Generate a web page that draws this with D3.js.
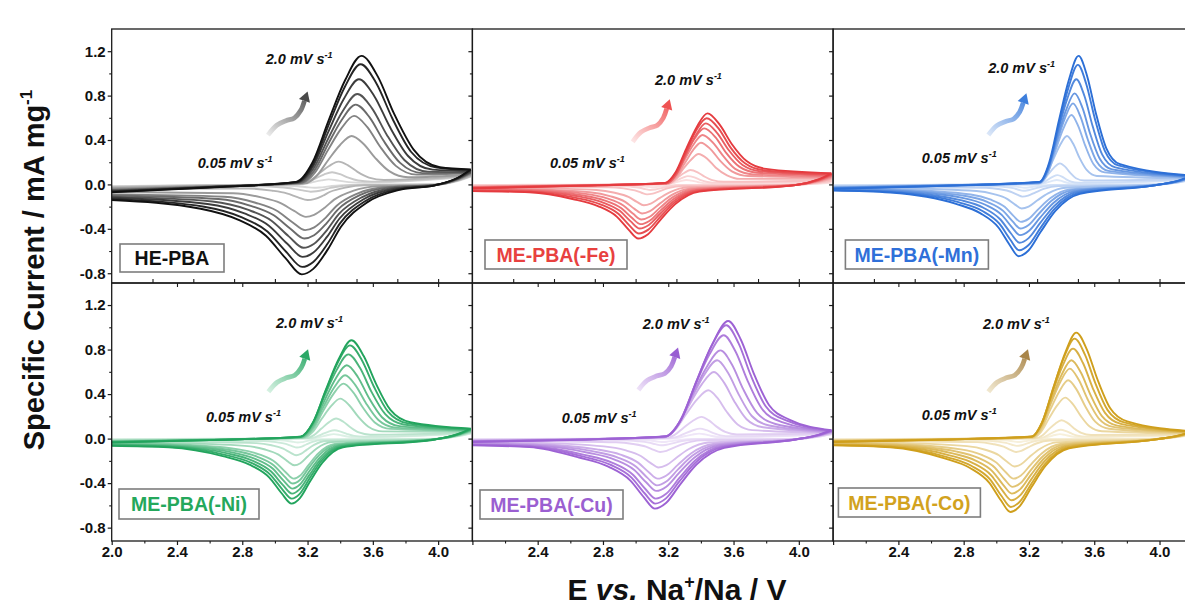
<!DOCTYPE html>
<html><head><meta charset="utf-8">
<script src="https://cdn.jsdelivr.net/npm/d3@7"></script>
<style>body{margin:0;background:#fff}svg{display:block}</style>
</head><body>
<svg id="chart" width="1185" height="606"></svg>
<script>
// ---------------- DATA (E / V, specific current / mA mg-1) ----------------
const panelNames = ["HE-PBA","ME-PBA(-Fe)","ME-PBA(-Mn)","ME-PBA(-Ni)","ME-PBA(-Cu)","ME-PBA(-Co)"];
const scanRateLabels = ["0.05 mV s","2.0 mV s"];
const xTickValues = [2.0,2.4,2.8,3.2,3.6,4.0];
const xTickLabels = ["2.0","2.4","2.8","3.2","3.6","4.0"];
const yTickValues = [-0.8,-0.4,0.0,0.4,0.8,1.2];
const yTickLabels = ["-0.8","-0.4","0.0","0.4","0.8","1.2"];

const heAnodic = [
[[2.0,-0.015],[2.6,-0.006],[3.15,0.0],[3.195,0.008],[3.24,0.023],[3.285,0.036],[3.33,0.045],[3.375,0.038],[3.42,0.027],[3.474,0.018],[3.546,0.015],[4.2,0.07]],
[[2.0,-0.02],[2.6,-0.008],[3.15,0.002],[3.2,0.019],[3.25,0.055],[3.3,0.089],[3.35,0.11],[3.4,0.092],[3.45,0.061],[3.51,0.035],[3.59,0.025],[4.2,0.075]],
[[2.0,-0.025],[2.6,-0.01],[3.158,0.004],[3.216,0.035],[3.274,0.103],[3.332,0.166],[3.39,0.205],[3.448,0.172],[3.506,0.113],[3.576,0.062],[3.668,0.04],[4.2,0.08]],
[[2.0,-0.035],[2.6,-0.014],[3.182,0.009],[3.254,0.074],[3.326,0.218],[3.398,0.353],[3.47,0.436],[3.542,0.366],[3.614,0.24],[3.7,0.12],[3.816,0.065],[4.2,0.09]],
[[2.0,-0.045],[2.6,-0.018],[3.165,0.012],[3.245,0.105],[3.325,0.309],[3.405,0.5],[3.485,0.617],[3.565,0.518],[3.645,0.339],[3.741,0.167],[3.869,0.088],[4.2,0.1]],
[[2.0,-0.05],[2.6,-0.02],[3.155,0.014],[3.24,0.122],[3.325,0.36],[3.41,0.582],[3.495,0.719],[3.58,0.604],[3.665,0.395],[3.767,0.194],[3.903,0.102],[4.2,0.105]],
[[2.0,-0.055],[2.6,-0.022],[3.145,0.016],[3.235,0.139],[3.325,0.408],[3.415,0.66],[3.505,0.815],[3.595,0.685],[3.685,0.448],[3.793,0.22],[3.937,0.115],[4.2,0.11]],
[[2.0,-0.06],[2.6,-0.024],[3.139,0.019],[3.233,0.161],[3.327,0.474],[3.421,0.767],[3.515,0.947],[3.609,0.795],[3.703,0.521],[3.816,0.256],[3.966,0.133],[4.2,0.12]],
[[2.0,-0.065],[2.6,-0.026],[3.137,0.022],[3.234,0.184],[3.331,0.542],[3.428,0.877],[3.525,1.083],[3.622,0.91],[3.719,0.596],[3.835,0.292],[3.991,0.152],[4.2,0.13]],
[[2.0,-0.07],[2.6,-0.028],[3.13,0.023],[3.23,0.197],[3.33,0.579],[3.43,0.938],[3.53,1.158],[3.63,0.973],[3.73,0.637],[3.85,0.313],[4.01,0.155],[4.2,0.135]]
];
const heCathodic = [
[[2.0,-0.02],[2.961,-0.008],[3.069,-0.012],[3.141,-0.017],[3.195,-0.025],[3.24,-0.03],[3.272,-0.028],[3.312,-0.022],[3.348,-0.014],[3.42,-0.006],[3.51,-0.002],[3.98,0.0],[4.12,0.03],[4.2,0.07]],
[[2.0,-0.03],[2.91,-0.018],[3.03,-0.026],[3.11,-0.038],[3.17,-0.054],[3.22,-0.066],[3.255,-0.062],[3.3,-0.048],[3.34,-0.031],[3.42,-0.013],[3.52,-0.004],[3.98,0.0],[4.12,0.034],[4.2,0.075]],
[[2.0,-0.045],[2.84,-0.038],[2.98,-0.056],[3.072,-0.08],[3.142,-0.116],[3.2,-0.141],[3.241,-0.133],[3.293,-0.102],[3.339,-0.066],[3.432,-0.028],[3.548,-0.008],[3.98,-0.003],[4.12,0.036],[4.2,0.08]],
[[2.0,-0.07],[2.744,-0.079],[2.916,-0.117],[3.032,-0.166],[3.118,-0.239],[3.19,-0.292],[3.24,-0.274],[3.305,-0.21],[3.363,-0.137],[3.478,-0.058],[3.622,-0.018],[3.98,-0.005],[4.12,0.04],[4.2,0.09]],
[[2.0,-0.09],[2.689,-0.111],[2.881,-0.165],[3.009,-0.235],[3.105,-0.338],[3.185,-0.412],[3.241,-0.387],[3.313,-0.297],[3.377,-0.194],[3.505,-0.082],[3.665,-0.025],[3.98,-0.005],[4.12,0.045],[4.2,0.1]],
[[2.0,-0.1],[2.653,-0.131],[2.857,-0.195],[2.993,-0.278],[3.095,-0.399],[3.18,-0.487],[3.24,-0.458],[3.316,-0.351],[3.384,-0.229],[3.52,-0.097],[3.69,-0.029],[3.98,-0.005],[4.12,0.047],[4.2,0.105]],
[[2.0,-0.11],[2.617,-0.154],[2.833,-0.228],[2.977,-0.325],[3.085,-0.468],[3.175,-0.571],[3.238,-0.537],[3.319,-0.411],[3.391,-0.268],[3.535,-0.114],[3.715,-0.034],[3.98,-0.006],[4.12,0.05],[4.2,0.11]],
[[2.0,-0.12],[2.587,-0.176],[2.813,-0.261],[2.963,-0.372],[3.076,-0.535],[3.17,-0.653],[3.236,-0.614],[3.32,-0.47],[3.396,-0.307],[3.546,-0.131],[3.734,-0.039],[3.98,-0.007],[4.12,0.054],[4.2,0.12]],
[[2.0,-0.13],[2.566,-0.201],[2.798,-0.297],[2.954,-0.424],[3.07,-0.609],[3.167,-0.743],[3.235,-0.698],[3.322,-0.535],[3.4,-0.349],[3.555,-0.149],[3.749,-0.045],[3.98,-0.008],[4.12,0.058],[4.2,0.13]],
[[2.0,-0.14],[2.545,-0.219],[2.785,-0.324],[2.945,-0.462],[3.065,-0.664],[3.165,-0.81],[3.235,-0.761],[3.325,-0.583],[3.405,-0.381],[3.565,-0.162],[3.765,-0.049],[3.98,-0.008],[4.12,0.06],[4.2,0.135]]
];

const feAnodic = [
[[2.0,-0.005],[2.6,-0.002],[3.19,0.001],[3.22,0.007],[3.25,0.02],[3.28,0.032],[3.31,0.04],[3.34,0.034],[3.38,0.022],[3.42,0.011],[3.47,0.007],[4.2,0.015]],
[[2.0,-0.009],[2.6,-0.004],[3.19,0.002],[3.22,0.013],[3.255,0.038],[3.29,0.061],[3.32,0.075],[3.36,0.063],[3.395,0.041],[3.44,0.022],[3.5,0.014],[4.2,0.025]],
[[2.0,-0.012],[2.6,-0.005],[3.18,0.003],[3.22,0.022],[3.26,0.065],[3.3,0.105],[3.335,0.13],[3.38,0.109],[3.42,0.072],[3.47,0.038],[3.54,0.024],[4.2,0.035]],
[[2.0,-0.018],[2.6,-0.007],[3.2,0.005],[3.245,0.047],[3.29,0.137],[3.34,0.222],[3.385,0.274],[3.44,0.23],[3.49,0.153],[3.56,0.082],[3.64,0.05],[4.2,0.05]],
[[2.0,-0.022],[2.6,-0.009],[3.19,0.008],[3.245,0.064],[3.3,0.188],[3.35,0.305],[3.4,0.376],[3.46,0.316],[3.52,0.21],[3.59,0.118],[3.69,0.076],[4.2,0.062]],
[[2.0,-0.025],[2.6,-0.01],[3.19,0.009],[3.245,0.076],[3.3,0.223],[3.355,0.36],[3.41,0.445],[3.475,0.374],[3.54,0.25],[3.61,0.14],[3.72,0.09],[4.2,0.07]],
[[2.0,-0.027],[2.6,-0.011],[3.19,0.01],[3.245,0.086],[3.3,0.253],[3.36,0.409],[3.42,0.505],[3.49,0.424],[3.555,0.284],[3.635,0.16],[3.745,0.105],[4.2,0.078]],
[[2.0,-0.03],[2.6,-0.012],[3.19,0.011],[3.25,0.094],[3.31,0.275],[3.37,0.446],[3.43,0.55],[3.5,0.462],[3.57,0.31],[3.655,0.175],[3.77,0.117],[4.2,0.086]],
[[2.0,-0.033],[2.6,-0.013],[3.18,0.012],[3.245,0.101],[3.31,0.298],[3.37,0.483],[3.435,0.596],[3.51,0.501],[3.58,0.336],[3.67,0.19],[3.785,0.128],[4.2,0.093]],
[[2.0,-0.035],[2.6,-0.014],[3.18,0.013],[3.245,0.109],[3.31,0.32],[3.375,0.518],[3.44,0.64],[3.515,0.538],[3.59,0.362],[3.68,0.21],[3.8,0.14],[4.2,0.1]]
];
const feCathodic = [
[[2.0,-0.009],[2.92,-0.007],[2.99,-0.01],[3.04,-0.015],[3.074,-0.021],[3.1,-0.025],[3.127,-0.023],[3.16,-0.017],[3.2,-0.009],[3.27,-0.004],[3.98,-0.001],[4.12,0.007],[4.2,0.015]],
[[2.0,-0.015],[2.89,-0.014],[2.97,-0.02],[3.025,-0.03],[3.06,-0.042],[3.09,-0.05],[3.12,-0.046],[3.158,-0.033],[3.203,-0.019],[3.278,-0.008],[3.98,-0.002],[4.12,0.011],[4.2,0.025]],
[[2.0,-0.021],[2.836,-0.025],[2.927,-0.036],[2.995,-0.054],[3.036,-0.075],[3.07,-0.09],[3.105,-0.083],[3.148,-0.06],[3.2,-0.034],[3.288,-0.014],[3.98,-0.003],[4.12,0.016],[4.2,0.035]],
[[2.0,-0.03],[2.35,-0.033],[2.76,-0.05],[2.872,-0.075],[2.956,-0.112],[3.008,-0.157],[3.05,-0.187],[3.093,-0.172],[3.147,-0.123],[3.212,-0.069],[3.32,-0.026],[3.98,-0.003],[4.12,0.022],[4.2,0.05]],
[[2.0,-0.037],[2.35,-0.042],[2.718,-0.071],[2.842,-0.105],[2.936,-0.157],[2.993,-0.22],[3.04,-0.262],[3.088,-0.241],[3.148,-0.173],[3.22,-0.097],[3.34,-0.036],[3.98,-0.004],[4.12,0.028],[4.2,0.062]],
[[2.0,-0.042],[2.35,-0.048],[2.692,-0.085],[2.825,-0.126],[2.925,-0.19],[2.985,-0.265],[3.035,-0.316],[3.086,-0.291],[3.15,-0.209],[3.226,-0.117],[3.354,-0.043],[3.98,-0.004],[4.12,0.032],[4.2,0.07]],
[[2.0,-0.047],[2.35,-0.055],[2.667,-0.097],[2.808,-0.143],[2.913,-0.215],[2.977,-0.301],[3.03,-0.358],[3.084,-0.329],[3.152,-0.236],[3.233,-0.132],[3.368,-0.05],[3.98,-0.005],[4.12,0.035],[4.2,0.078]],
[[2.0,-0.052],[2.35,-0.06],[2.646,-0.107],[2.793,-0.159],[2.903,-0.238],[2.97,-0.333],[3.025,-0.397],[3.081,-0.365],[3.152,-0.262],[3.237,-0.147],[3.378,-0.055],[3.98,-0.005],[4.12,0.039],[4.2,0.086]],
[[2.0,-0.056],[2.35,-0.065],[2.629,-0.119],[2.78,-0.177],[2.894,-0.265],[2.963,-0.371],[3.02,-0.442],[3.078,-0.407],[3.151,-0.292],[3.238,-0.164],[3.384,-0.06],[3.98,-0.006],[4.12,0.042],[4.2,0.093]],
[[2.0,-0.06],[2.35,-0.071],[2.613,-0.131],[2.769,-0.195],[2.886,-0.292],[2.958,-0.409],[3.016,-0.487],[3.076,-0.448],[3.151,-0.321],[3.241,-0.18],[3.391,-0.065],[3.98,-0.006],[4.12,0.045],[4.2,0.1]]
];

const mnAnodic = [
[[2.0,-0.006],[2.6,-0.002],[3.262,0.001],[3.289,0.007],[3.316,0.02],[3.343,0.032],[3.37,0.04],[3.394,0.034],[3.418,0.022],[3.446,0.012],[3.484,0.008],[4.2,0.04]],
[[2.0,-0.01],[2.6,-0.004],[3.255,0.002],[3.285,0.014],[3.315,0.042],[3.345,0.068],[3.375,0.084],[3.402,0.071],[3.428,0.046],[3.46,0.024],[3.502,0.015],[4.2,0.044]],
[[2.0,-0.014],[2.6,-0.006],[3.251,0.004],[3.286,0.032],[3.32,0.095],[3.355,0.154],[3.39,0.19],[3.421,0.16],[3.452,0.106],[3.488,0.056],[3.538,0.035],[4.2,0.048]],
[[2.0,-0.02],[2.6,-0.008],[3.26,0.009],[3.303,0.074],[3.347,0.218],[3.39,0.353],[3.433,0.436],[3.471,0.366],[3.509,0.242],[3.555,0.128],[3.616,0.076],[4.2,0.054]],
[[2.0,-0.025],[2.6,-0.01],[3.268,0.013],[3.316,0.106],[3.364,0.313],[3.412,0.507],[3.46,0.626],[3.502,0.526],[3.545,0.349],[3.596,0.181],[3.664,0.108],[4.2,0.06]],
[[2.0,-0.028],[2.6,-0.011],[3.266,0.015],[3.317,0.124],[3.368,0.365],[3.419,0.591],[3.47,0.73],[3.515,0.613],[3.56,0.407],[3.614,0.209],[3.686,0.122],[4.2,0.064]],
[[2.0,-0.031],[2.6,-0.012],[3.264,0.016],[3.318,0.139],[3.372,0.41],[3.426,0.664],[3.48,0.82],[3.528,0.689],[3.575,0.456],[3.633,0.233],[3.709,0.135],[4.2,0.068]],
[[2.0,-0.034],[2.6,-0.014],[3.264,0.019],[3.321,0.161],[3.377,0.474],[3.434,0.768],[3.49,0.948],[3.54,0.796],[3.59,0.526],[3.649,0.268],[3.729,0.153],[4.2,0.072]],
[[2.0,-0.037],[2.6,-0.015],[3.267,0.022],[3.325,0.183],[3.384,0.539],[3.442,0.872],[3.5,1.077],[3.551,0.905],[3.603,0.597],[3.665,0.303],[3.747,0.171],[4.2,0.076]],
[[2.0,-0.04],[2.6,-0.016],[3.264,0.023],[3.324,0.197],[3.384,0.579],[3.444,0.938],[3.504,1.158],[3.557,0.973],[3.61,0.642],[3.674,0.325],[3.758,0.182],[4.2,0.08]]
];
const mnCathodic = [
[[2.0,-0.008],[2.997,-0.008],[3.064,-0.012],[3.114,-0.018],[3.145,-0.025],[3.17,-0.03],[3.197,-0.028],[3.231,-0.02],[3.271,-0.011],[3.339,-0.004],[3.98,0.0],[4.12,0.018],[4.2,0.04]],
[[2.0,-0.014],[2.973,-0.015],[3.047,-0.023],[3.103,-0.034],[3.137,-0.048],[3.165,-0.057],[3.195,-0.052],[3.233,-0.038],[3.278,-0.021],[3.353,-0.008],[3.98,0.0],[4.12,0.02],[4.2,0.044]],
[[2.0,-0.019],[2.937,-0.03],[3.023,-0.044],[3.088,-0.066],[3.128,-0.092],[3.16,-0.11],[3.195,-0.101],[3.238,-0.073],[3.29,-0.041],[3.378,-0.015],[3.98,-0.002],[4.12,0.022],[4.2,0.048]],
[[2.0,-0.028],[2.35,-0.033],[2.878,-0.059],[2.985,-0.087],[3.066,-0.13],[3.115,-0.182],[3.155,-0.217],[3.198,-0.2],[3.252,-0.143],[3.317,-0.08],[3.425,-0.03],[3.98,-0.003],[4.12,0.024],[4.2,0.054]],
[[2.0,-0.034],[2.35,-0.043],[2.843,-0.091],[2.962,-0.135],[3.051,-0.202],[3.105,-0.283],[3.15,-0.337],[3.198,-0.31],[3.258,-0.222],[3.33,-0.125],[3.45,-0.045],[3.98,-0.004],[4.12,0.027],[4.2,0.06]],
[[2.0,-0.039],[2.35,-0.049],[2.82,-0.107],[2.947,-0.159],[3.042,-0.238],[3.1,-0.333],[3.147,-0.397],[3.198,-0.365],[3.262,-0.262],[3.338,-0.147],[3.466,-0.053],[3.98,-0.004],[4.12,0.029],[4.2,0.064]],
[[2.0,-0.043],[2.35,-0.055],[2.799,-0.123],[2.933,-0.183],[3.033,-0.274],[3.095,-0.384],[3.145,-0.457],[3.199,-0.42],[3.267,-0.302],[3.348,-0.169],[3.483,-0.06],[3.98,-0.005],[4.12,0.031],[4.2,0.068]],
[[2.0,-0.047],[2.35,-0.061],[2.781,-0.142],[2.921,-0.21],[3.025,-0.316],[3.09,-0.442],[3.142,-0.526],[3.198,-0.484],[3.269,-0.347],[3.354,-0.195],[3.495,-0.068],[3.98,-0.005],[4.12,0.032],[4.2,0.072]],
[[2.0,-0.051],[2.35,-0.067],[2.767,-0.16],[2.912,-0.237],[3.02,-0.356],[3.086,-0.498],[3.14,-0.593],[3.198,-0.546],[3.271,-0.391],[3.358,-0.219],[3.504,-0.077],[3.98,-0.006],[4.12,0.034],[4.2,0.076]],
[[2.0,-0.055],[2.35,-0.073],[2.753,-0.175],[2.901,-0.259],[3.013,-0.388],[3.081,-0.543],[3.137,-0.647],[3.197,-0.595],[3.272,-0.427],[3.362,-0.239],[3.512,-0.085],[3.98,-0.006],[4.12,0.036],[4.2,0.08]]
];

const niAnodic = [
[[2.0,-0.005],[2.6,-0.002],[3.22,0.001],[3.255,0.007],[3.29,0.02],[3.325,0.032],[3.36,0.04],[3.394,0.034],[3.428,0.023],[3.468,0.014],[3.522,0.012],[4.2,0.045]],
[[2.0,-0.009],[2.6,-0.004],[3.209,0.002],[3.248,0.013],[3.287,0.038],[3.326,0.061],[3.365,0.075],[3.403,0.063],[3.44,0.043],[3.485,0.024],[3.545,0.017],[4.2,0.05]],
[[2.0,-0.012],[2.6,-0.005],[3.194,0.004],[3.239,0.031],[3.285,0.09],[3.33,0.146],[3.375,0.18],[3.419,0.151],[3.462,0.102],[3.514,0.055],[3.584,0.035],[4.2,0.054]],
[[2.0,-0.018],[2.6,-0.007],[3.175,0.007],[3.232,0.061],[3.288,0.18],[3.344,0.291],[3.4,0.359],[3.454,0.302],[3.508,0.201],[3.573,0.107],[3.659,0.065],[4.2,0.061]],
[[2.0,-0.022],[2.6,-0.009],[3.17,0.01],[3.233,0.084],[3.295,0.247],[3.358,0.4],[3.42,0.494],[3.48,0.415],[3.54,0.277],[3.612,0.145],[3.708,0.087],[4.2,0.068]],
[[2.0,-0.025],[2.6,-0.01],[3.165,0.011],[3.231,0.097],[3.297,0.285],[3.364,0.461],[3.43,0.569],[3.494,0.478],[3.558,0.318],[3.634,0.167],[3.736,0.099],[4.2,0.072]],
[[2.0,-0.027],[2.6,-0.011],[3.159,0.013],[3.229,0.112],[3.3,0.33],[3.37,0.534],[3.44,0.659],[3.508,0.554],[3.575,0.368],[3.656,0.192],[3.764,0.112],[4.2,0.077]],
[[2.0,-0.03],[2.6,-0.012],[3.157,0.015],[3.23,0.129],[3.303,0.379],[3.377,0.613],[3.45,0.757],[3.521,0.636],[3.591,0.422],[3.676,0.219],[3.788,0.127],[4.2,0.081]],
[[2.0,-0.033],[2.6,-0.013],[3.157,0.017],[3.233,0.142],[3.309,0.419],[3.384,0.679],[3.46,0.838],[3.533,0.704],[3.606,0.468],[3.693,0.242],[3.809,0.139],[4.2,0.086]],
[[2.0,-0.035],[2.6,-0.014],[3.157,0.018],[3.235,0.15],[3.313,0.442],[3.391,0.715],[3.469,0.883],[3.544,0.742],[3.619,0.494],[3.709,0.255],[3.829,0.147],[4.2,0.09]]
];
const niCathodic = [
[[2.0,-0.01],[2.95,-0.009],[3.024,-0.014],[3.079,-0.021],[3.113,-0.029],[3.14,-0.035],[3.163,-0.032],[3.191,-0.023],[3.225,-0.013],[3.282,-0.005],[3.98,-0.002],[4.12,0.02],[4.2,0.045]],
[[2.0,-0.016],[2.924,-0.022],[3.006,-0.032],[3.067,-0.048],[3.104,-0.067],[3.135,-0.08],[3.16,-0.074],[3.192,-0.053],[3.23,-0.03],[3.293,-0.011],[3.98,-0.003],[4.12,0.022],[4.2,0.05]],
[[2.0,-0.023],[2.35,-0.026],[2.886,-0.041],[2.98,-0.06],[3.051,-0.09],[3.095,-0.126],[3.13,-0.15],[3.159,-0.138],[3.196,-0.099],[3.24,-0.056],[3.313,-0.021],[3.98,-0.004],[4.12,0.024],[4.2,0.054]],
[[2.0,-0.033],[2.35,-0.038],[2.816,-0.065],[2.934,-0.096],[3.022,-0.144],[3.076,-0.202],[3.12,-0.24],[3.156,-0.221],[3.202,-0.158],[3.256,-0.089],[3.347,-0.032],[3.98,-0.005],[4.12,0.027],[4.2,0.061]],
[[2.0,-0.04],[2.35,-0.049],[2.778,-0.097],[2.908,-0.144],[3.006,-0.216],[3.066,-0.302],[3.115,-0.36],[3.155,-0.331],[3.206,-0.238],[3.266,-0.133],[3.367,-0.048],[3.98,-0.005],[4.12,0.03],[4.2,0.068]],
[[2.0,-0.046],[2.35,-0.055],[2.752,-0.109],[2.89,-0.162],[2.994,-0.242],[3.058,-0.339],[3.11,-0.404],[3.153,-0.372],[3.206,-0.267],[3.271,-0.149],[3.378,-0.054],[3.98,-0.006],[4.12,0.032],[4.2,0.072]],
[[2.0,-0.051],[2.35,-0.062],[2.729,-0.121],[2.875,-0.18],[2.986,-0.269],[3.053,-0.377],[3.108,-0.449],[3.153,-0.413],[3.21,-0.296],[3.278,-0.166],[3.392,-0.06],[3.98,-0.006],[4.12,0.035],[4.2,0.077]],
[[2.0,-0.056],[2.35,-0.068],[2.709,-0.133],[2.862,-0.198],[2.977,-0.296],[3.048,-0.415],[3.105,-0.494],[3.152,-0.454],[3.212,-0.326],[3.283,-0.183],[3.401,-0.066],[3.98,-0.007],[4.12,0.036],[4.2,0.081]],
[[2.0,-0.06],[2.35,-0.073],[2.694,-0.146],[2.852,-0.216],[2.971,-0.323],[3.044,-0.453],[3.103,-0.539],[3.152,-0.496],[3.213,-0.356],[3.286,-0.199],[3.409,-0.072],[3.98,-0.007],[4.12,0.039],[4.2,0.086]],
[[2.0,-0.065],[2.35,-0.079],[2.68,-0.158],[2.844,-0.234],[2.966,-0.35],[3.041,-0.491],[3.102,-0.584],[3.152,-0.537],[3.215,-0.385],[3.291,-0.216],[3.417,-0.078],[3.98,-0.008],[4.12,0.04],[4.2,0.09]]
];

const cuAnodic = [
[[2.0,-0.005],[2.6,-0.002],[3.219,0.001],[3.262,0.008],[3.305,0.023],[3.347,0.036],[3.39,0.045],[3.425,0.038],[3.46,0.026],[3.502,0.015],[3.558,0.012],[4.2,0.038]],
[[2.0,-0.008],[2.6,-0.003],[3.205,0.002],[3.253,0.015],[3.3,0.045],[3.348,0.073],[3.395,0.09],[3.434,0.076],[3.473,0.052],[3.52,0.029],[3.582,0.021],[4.2,0.041]],
[[2.0,-0.011],[2.6,-0.004],[3.184,0.004],[3.239,0.033],[3.294,0.098],[3.349,0.158],[3.404,0.195],[3.449,0.164],[3.494,0.11],[3.549,0.06],[3.621,0.037],[4.2,0.045]],
[[2.0,-0.015],[2.6,-0.006],[3.171,0.009],[3.24,0.074],[3.308,0.217],[3.377,0.352],[3.445,0.434],[3.501,0.365],[3.557,0.243],[3.625,0.127],[3.715,0.076],[4.2,0.051]],
[[2.0,-0.019],[2.6,-0.008],[3.176,0.012],[3.252,0.102],[3.328,0.3],[3.404,0.485],[3.48,0.599],[3.542,0.503],[3.605,0.334],[3.68,0.174],[3.78,0.102],[4.2,0.056]],
[[2.0,-0.021],[2.6,-0.008],[3.177,0.014],[3.258,0.12],[3.339,0.352],[3.419,0.57],[3.5,0.704],[3.566,0.591],[3.633,0.393],[3.712,0.203],[3.818,0.118],[4.2,0.06]],
[[2.0,-0.023],[2.6,-0.009],[3.178,0.016],[3.264,0.135],[3.349,0.397],[3.435,0.642],[3.52,0.793],[3.59,0.666],[3.66,0.442],[3.745,0.228],[3.857,0.131],[4.2,0.064]],
[[2.0,-0.026],[2.6,-0.01],[3.183,0.019],[3.272,0.158],[3.361,0.464],[3.451,0.752],[3.54,0.928],[3.613,0.78],[3.687,0.517],[3.775,0.266],[3.892,0.151],[4.2,0.068]],
[[2.0,-0.028],[2.6,-0.011],[3.186,0.02],[3.279,0.173],[3.371,0.509],[3.463,0.825],[3.555,1.018],[3.631,0.855],[3.706,0.567],[3.797,0.291],[3.918,0.165],[4.2,0.071]],
[[2.0,-0.03],[2.6,-0.012],[3.187,0.021],[3.282,0.18],[3.377,0.529],[3.472,0.856],[3.567,1.057],[3.645,0.888],[3.723,0.589],[3.817,0.302],[3.941,0.171],[4.2,0.075]]
];
const cuCathodic = [
[[2.0,-0.009],[2.951,-0.008],[3.032,-0.012],[3.093,-0.018],[3.13,-0.026],[3.16,-0.03],[3.191,-0.028],[3.229,-0.02],[3.275,-0.011],[3.351,-0.004],[3.98,-0.002],[4.12,0.017],[4.2,0.038]],
[[2.0,-0.015],[2.923,-0.016],[3.013,-0.024],[3.08,-0.036],[3.121,-0.05],[3.155,-0.06],[3.189,-0.055],[3.232,-0.04],[3.283,-0.022],[3.368,-0.008],[3.98,-0.003],[4.12,0.018],[4.2,0.041]],
[[2.0,-0.021],[2.35,-0.023],[2.88,-0.033],[2.985,-0.048],[3.063,-0.072],[3.111,-0.101],[3.15,-0.12],[3.189,-0.11],[3.239,-0.079],[3.298,-0.045],[3.397,-0.016],[3.98,-0.004],[4.12,0.02],[4.2,0.045]],
[[2.0,-0.03],[2.35,-0.036],[2.805,-0.07],[2.935,-0.104],[3.032,-0.156],[3.091,-0.218],[3.14,-0.26],[3.189,-0.239],[3.25,-0.172],[3.324,-0.096],[3.446,-0.035],[3.98,-0.005],[4.12,0.023],[4.2,0.051]],
[[2.0,-0.037],[2.35,-0.046],[2.763,-0.097],[2.907,-0.144],[3.015,-0.216],[3.081,-0.302],[3.135,-0.36],[3.189,-0.331],[3.257,-0.238],[3.339,-0.133],[3.475,-0.048],[3.98,-0.006],[4.12,0.025],[4.2,0.056]],
[[2.0,-0.042],[2.35,-0.053],[2.735,-0.113],[2.888,-0.168],[3.003,-0.252],[3.073,-0.353],[3.13,-0.42],[3.188,-0.386],[3.26,-0.277],[3.347,-0.155],[3.491,-0.056],[3.98,-0.006],[4.12,0.027],[4.2,0.06]],
[[2.0,-0.047],[2.35,-0.059],[2.709,-0.127],[2.871,-0.188],[2.992,-0.282],[3.066,-0.395],[3.127,-0.47],[3.188,-0.432],[3.265,-0.31],[3.357,-0.174],[3.51,-0.062],[3.98,-0.007],[4.12,0.029],[4.2,0.064]],
[[2.0,-0.052],[2.35,-0.066],[2.686,-0.146],[2.855,-0.216],[2.982,-0.323],[3.06,-0.453],[3.123,-0.539],[3.187,-0.496],[3.267,-0.356],[3.363,-0.199],[3.523,-0.071],[3.98,-0.007],[4.12,0.031],[4.2,0.068]],
[[2.0,-0.056],[2.35,-0.071],[2.669,-0.158],[2.844,-0.234],[2.975,-0.35],[3.055,-0.491],[3.12,-0.584],[3.186,-0.537],[3.268,-0.385],[3.367,-0.216],[3.532,-0.077],[3.98,-0.008],[4.12,0.032],[4.2,0.071]],
[[2.0,-0.06],[2.35,-0.077],[2.653,-0.17],[2.833,-0.252],[2.968,-0.377],[3.051,-0.528],[3.118,-0.629],[3.186,-0.579],[3.271,-0.415],[3.373,-0.233],[3.543,-0.083],[3.98,-0.008],[4.12,0.034],[4.2,0.075]]
];

const coAnodic = [
[[2.0,-0.005],[2.6,-0.002],[3.268,0.001],[3.298,0.007],[3.329,0.02],[3.359,0.032],[3.39,0.04],[3.419,0.034],[3.449,0.023],[3.484,0.014],[3.53,0.012],[4.2,0.033]],
[[2.0,-0.008],[2.6,-0.003],[3.259,0.002],[3.293,0.014],[3.327,0.04],[3.361,0.065],[3.395,0.08],[3.428,0.067],[3.46,0.046],[3.499,0.026],[3.551,0.018],[4.2,0.036]],
[[2.0,-0.011],[2.6,-0.004],[3.242,0.003],[3.282,0.028],[3.321,0.083],[3.361,0.134],[3.4,0.165],[3.438,0.139],[3.475,0.094],[3.521,0.051],[3.581,0.032],[4.2,0.039]],
[[2.0,-0.015],[2.6,-0.006],[3.226,0.007],[3.275,0.063],[3.324,0.184],[3.373,0.298],[3.422,0.368],[3.469,0.309],[3.516,0.206],[3.572,0.108],[3.647,0.066],[4.2,0.044]],
[[2.0,-0.019],[2.6,-0.008],[3.222,0.01],[3.277,0.089],[3.331,0.262],[3.386,0.424],[3.44,0.524],[3.492,0.44],[3.544,0.293],[3.606,0.152],[3.69,0.089],[4.2,0.049]],
[[2.0,-0.021],[2.6,-0.008],[3.219,0.013],[3.277,0.107],[3.334,0.315],[3.392,0.509],[3.45,0.629],[3.505,0.528],[3.56,0.351],[3.627,0.182],[3.715,0.105],[4.2,0.052]],
[[2.0,-0.023],[2.6,-0.009],[3.215,0.014],[3.276,0.12],[3.338,0.352],[3.399,0.57],[3.46,0.704],[3.519,0.591],[3.577,0.393],[3.647,0.202],[3.741,0.117],[4.2,0.055]],
[[2.0,-0.026],[2.6,-0.01],[3.214,0.016],[3.278,0.137],[3.342,0.404],[3.406,0.654],[3.47,0.808],[3.531,0.679],[3.592,0.45],[3.666,0.231],[3.763,0.132],[4.2,0.059]],
[[2.0,-0.028],[2.6,-0.011],[3.216,0.018],[3.282,0.153],[3.348,0.449],[3.414,0.727],[3.48,0.898],[3.543,0.754],[3.606,0.501],[3.682,0.256],[3.783,0.146],[4.2,0.062]],
[[2.0,-0.03],[2.6,-0.012],[3.218,0.019],[3.286,0.162],[3.354,0.476],[3.422,0.771],[3.49,0.952],[3.555,0.8],[3.62,0.531],[3.698,0.272],[3.802,0.154],[4.2,0.065]]
];
const coCathodic = [
[[2.0,-0.009],[2.949,-0.008],[3.019,-0.012],[3.072,-0.018],[3.104,-0.025],[3.13,-0.03],[3.156,-0.028],[3.188,-0.02],[3.227,-0.011],[3.292,-0.004],[3.98,-0.001],[4.12,0.015],[4.2,0.033]],
[[2.0,-0.015],[2.924,-0.018],[3.002,-0.026],[3.06,-0.039],[3.096,-0.055],[3.125,-0.065],[3.154,-0.06],[3.19,-0.043],[3.233,-0.024],[3.305,-0.009],[3.98,-0.002],[4.12,0.016],[4.2,0.036]],
[[2.0,-0.021],[2.35,-0.023],[2.886,-0.032],[2.977,-0.048],[3.045,-0.072],[3.086,-0.101],[3.12,-0.12],[3.153,-0.11],[3.195,-0.079],[3.245,-0.044],[3.329,-0.017],[3.98,-0.003],[4.12,0.018],[4.2,0.039]],
[[2.0,-0.03],[2.35,-0.036],[2.82,-0.068],[2.932,-0.1],[3.016,-0.15],[3.068,-0.21],[3.11,-0.25],[3.152,-0.23],[3.203,-0.165],[3.266,-0.093],[3.369,-0.034],[3.98,-0.004],[4.12,0.02],[4.2,0.044]],
[[2.0,-0.037],[2.35,-0.046],[2.783,-0.097],[2.907,-0.144],[3.001,-0.216],[3.058,-0.302],[3.105,-0.36],[3.151,-0.331],[3.209,-0.238],[3.278,-0.133],[3.393,-0.048],[3.98,-0.005],[4.12,0.022],[4.2,0.049]],
[[2.0,-0.042],[2.35,-0.053],[2.758,-0.117],[2.89,-0.174],[2.99,-0.26],[3.05,-0.365],[3.1,-0.434],[3.149,-0.399],[3.21,-0.286],[3.284,-0.161],[3.406,-0.057],[3.98,-0.005],[4.12,0.023],[4.2,0.052]],
[[2.0,-0.047],[2.35,-0.06],[2.732,-0.133],[2.873,-0.198],[2.978,-0.296],[3.042,-0.415],[3.095,-0.494],[3.147,-0.454],[3.212,-0.326],[3.289,-0.183],[3.419,-0.065],[3.98,-0.006],[4.12,0.025],[4.2,0.055]],
[[2.0,-0.052],[2.35,-0.067],[2.713,-0.15],[2.86,-0.222],[2.97,-0.332],[3.037,-0.465],[3.092,-0.554],[3.146,-0.51],[3.214,-0.366],[3.295,-0.205],[3.43,-0.073],[3.98,-0.006],[4.12,0.027],[4.2,0.059]],
[[2.0,-0.056],[2.35,-0.073],[2.698,-0.166],[2.849,-0.246],[2.963,-0.368],[3.032,-0.516],[3.089,-0.614],[3.145,-0.565],[3.215,-0.405],[3.299,-0.227],[3.438,-0.081],[3.98,-0.007],[4.12,0.028],[4.2,0.062]],
[[2.0,-0.06],[2.35,-0.078],[2.683,-0.178],[2.839,-0.264],[2.956,-0.395],[3.028,-0.554],[3.086,-0.659],[3.144,-0.606],[3.216,-0.435],[3.302,-0.244],[3.446,-0.087],[3.98,-0.007],[4.12,0.029],[4.2,0.065]]
];

// ---------------- LAYOUT & STYLE ----------------
const anodicSets = [heAnodic, feAnodic, mnAnodic, niAnodic, cuAnodic, coAnodic];
const cathodicSets = [heCathodic, feCathodic, mnCathodic, niCathodic, cuCathodic, coCathodic];
const panelColors = ["#111111","#e53b3f","#2c6fd6","#22a45d","#9d62d4","#cf9f1c"];
const labelColors = ["#111111","#e8413f","#2f70d9","#24a85c","#9b5fd1","#d2a21e"];
const arrowColors = [["#ececec","#4a4a4a"],["#fde6e6","#ef5252"],["#dde8f8","#3d7edc"],["#d6f1e2","#2aa866"],["#eee2f8","#985dd2"],["#f1e8d0","#a98548"]];
const shades = [0.16,0.23,0.31,0.42,0.52,0.62,0.72,0.82,0.91,1.0];
const colX = [111.7, 472.4, 833.1], colW = 360.7;
const rowY = [29, 283], rowH = [254, 258];
const yDomains = [[-0.888, 1.4], [-0.92, 1.398]];
const xDomain = [2.0, 4.21];
const FONT = "'Liberation Sans', Arial, Helvetica, sans-serif";
// annotation anchors in data units: [E, I]
const annot = [
  {hi:[2.944,1.085], lo:[2.527,0.148], a0:[2.957,0.444], a1:[3.203,0.85], box:[8.3,215,104,28]},
  {hi:[3.119,0.896], lo:[2.475,0.148], a0:[2.982,0.384], a1:[3.211,0.776], box:[12.6,211,142,29]},
  {hi:[2.95,1.004], lo:[2.543,0.193], a0:[2.951,0.445], a1:[3.186,0.827], box:[12.3,211,143,29]},
  {hi:[3.007,0.994], lo:[2.578,0.152], a0:[2.96,0.421], a1:[3.205,0.811], box:[7.3,206,140,30]},
  {hi:[3.044,0.985], lo:[2.547,0.14], a0:[3.017,0.437], a1:[3.262,0.826], box:[7.6,207,143,29]},
  {hi:[2.918,0.985], lo:[2.543,0.167], a0:[2.951,0.421], a1:[3.196,0.811], box:[5.3,205,142,29]}
];

const svg = d3.select("#chart");
const defs = svg.append("defs");

panelNames.forEach((name, p) => {
  const col = p % 3, row = Math.floor(p / 3);
  const x0 = colX[col], y0 = rowY[row], h = rowH[row];
  const x = d3.scaleLinear().domain(xDomain).range([x0, x0 + colW]);
  const y = d3.scaleLinear().domain(yDomains[row]).range([y0 + h, y0]);
  const g = svg.append("g");

  defs.append("clipPath").attr("id", "clip" + p)
    .append("rect").attr("x", x0).attr("y", y0).attr("width", colW).attr("height", h);

  const plot = g.append("g").attr("clip-path", `url(#clip${p})`);
  const line = d3.line().x(d => x(d[0])).y(d => y(d[1])).curve(d3.curveMonotoneX);
  const an = anodicSets[p], ca = cathodicSets[p];
  for (let i = 0; i < an.length; i++) {
    const c = d3.interpolateRgb("#ffffff", panelColors[p])(shades[i]);
    plot.append("path").attr("d", line(ca[i])).attr("fill", "none").attr("stroke", c).attr("stroke-width", 1.9);
    plot.append("path").attr("d", line(an[i])).attr("fill", "none").attr("stroke", c).attr("stroke-width", 1.9);
  }

  // frame
  g.append("rect").attr("x", x0).attr("y", y0).attr("width", colW).attr("height", h)
    .attr("fill", "none").attr("stroke", "#1a1a1a").attr("stroke-width", 1.3);

  // left axis ticks (labels only for first column)
  const yAx = d3.axisLeft(y).tickValues(yTickValues).tickSize(4).tickPadding(2)
    .tickFormat((d, i) => col === 0 ? yTickLabels[i] : "");
  const ya = g.append("g").attr("transform", `translate(${x0},0)`).call(yAx);
  ya.select(".domain").remove();
  ya.selectAll("line").attr("stroke", "#1a1a1a").attr("stroke-width", 1.2);
  ya.selectAll("text").attr("font-family", FONT).attr("font-weight", "bold").attr("font-size", 15).attr("fill", "#111");
  const yMin = d3.axisLeft(y).tickValues([-0.6,-0.2,0.2,0.6,1.0]).tickSize(2.5).tickFormat("");
  const ym = g.append("g").attr("transform", `translate(${x0},0)`).call(yMin);
  ym.select(".domain").remove();
  ym.selectAll("line").attr("stroke", "#1a1a1a").attr("stroke-width", 1.1);

  if (row === 1) {
    const xAx = d3.axisBottom(x).tickValues(xTickValues).tickSize(4).tickPadding(1)
      .tickFormat((d, i) => (col > 0 && i === 0) ? "" : xTickLabels[i]);
    const xa = g.append("g").attr("transform", `translate(0,${y0 + h})`).call(xAx);
    xa.select(".domain").remove();
    xa.selectAll("line").attr("stroke", "#1a1a1a").attr("stroke-width", 1.2);
    xa.selectAll("text").attr("font-family", FONT).attr("font-weight", "bold").attr("font-size", 15).attr("fill", "#111");
    const xMin = d3.axisBottom(x).tickValues([2.2,2.6,3.0,3.4,3.8]).tickSize(2.5).tickFormat("");
    const xm = g.append("g").attr("transform", `translate(0,${y0 + h})`).call(xMin);
    xm.select(".domain").remove();
    xm.selectAll("line").attr("stroke", "#1a1a1a").attr("stroke-width", 1.1);
    const xTop = d3.axisBottom(x).tickValues([2.4,2.8,3.2,3.6,4.0]).tickSize(4).tickFormat("");
    const xt = g.append("g").attr("transform", `translate(0,${y0})`).call(xTop);
    xt.select(".domain").remove();
    xt.selectAll("line").attr("stroke", "#1a1a1a").attr("stroke-width", 1.1);
  } else {
    const xBot = d3.axisTop(x).tickValues([2.25,2.5,2.75,3.0,3.25,3.5,3.75,4.0]).tickSize(4).tickFormat("");
    const xb = g.append("g").attr("transform", `translate(0,${y0 + h})`).call(xBot);
    xb.select(".domain").remove();
    xb.selectAll("line").attr("stroke", "#1a1a1a").attr("stroke-width", 1.1);
  }

  // annotations
  const A = annot[p];
  const addRate = (pos, txt) => {
    const t = g.append("text").attr("x", x(pos[0])).attr("y", y(pos[1]))
      .attr("font-family", FONT).attr("font-weight", "bold").attr("font-style", "italic")
      .attr("font-size", 14.5).attr("fill", "#111");
    t.append("tspan").text(txt);
    t.append("tspan").attr("dy", -6).attr("font-size", 9).text("-1");
  };
  addRate(A.hi, scanRateLabels[1]);
  addRate(A.lo, scanRateLabels[0]);

  // curved gradient arrow
  const S = [x(A.a0[0]), y(A.a0[1])], T = [x(A.a1[0]), y(A.a1[1])];
  const dx = T[0] - S[0], dy = T[1] - S[1];
  const shape = [[0,0],[0.22,0.22],[0.45,0.32],[0.66,0.38],[0.82,0.55],[0.91,0.76]];
  const pts = shape.map(q => [S[0] + q[0] * dx, S[1] + q[1] * dy]);
  const gid = "grad" + p;
  const grad = defs.append("linearGradient").attr("id", gid).attr("gradientUnits", "userSpaceOnUse")
    .attr("x1", S[0]).attr("y1", S[1]).attr("x2", T[0]).attr("y2", T[1]);
  grad.append("stop").attr("offset", 0).attr("stop-color", arrowColors[p][0]);
  grad.append("stop").attr("offset", 1).attr("stop-color", arrowColors[p][1]);
  g.append("path").attr("d", d3.line().curve(d3.curveCatmullRom)(pts))
    .attr("fill", "none").attr("stroke", `url(#${gid})`).attr("stroke-width", 4.8);
  const B = pts[pts.length - 1];
  const vx = T[0] - B[0], vy = T[1] - B[1], L = Math.hypot(vx, vy);
  const ux = vx / L, uy = vy / L, hw = 5.8;
  const tip = [B[0] + ux * 10, B[1] + uy * 10];
  g.append("path").attr("d", `M${tip[0]},${tip[1]}L${B[0] - uy * hw},${B[1] + ux * hw}L${B[0] + uy * hw},${B[1] - ux * hw}Z`)
    .attr("fill", arrowColors[p][1]);

  // legend box
  const bx = x0 + A.box[0], by = y0 + A.box[1];
  g.append("rect").attr("x", bx).attr("y", by).attr("width", A.box[2]).attr("height", A.box[3])
    .attr("fill", "#fff").attr("stroke", "#7d7d7d").attr("stroke-width", 1.6);
  g.append("text").attr("x", bx + A.box[2] / 2).attr("y", by + A.box[3] / 2 + 7)
    .attr("text-anchor", "middle").attr("font-family", FONT).attr("font-weight", "bold")
    .attr("font-size", 19.5).attr("fill", labelColors[p]).text(name);
});

// axis titles
const yt = svg.append("text").attr("transform", "translate(44,270) rotate(-90)")
  .attr("text-anchor", "middle").attr("font-family", FONT).attr("font-weight", "bold")
  .attr("font-size", 29).attr("fill", "#111");
yt.append("tspan").text("Specific Current / mA mg");
yt.append("tspan").attr("dy", -12).attr("font-size", 17).text("-1");

const xt = svg.append("text").attr("x", 677).attr("y", 600)
  .attr("text-anchor", "middle").attr("font-family", FONT).attr("font-weight", "bold")
  .attr("font-size", 30).attr("fill", "#111");
xt.append("tspan").text("E ");
xt.append("tspan").attr("font-style", "italic").text("vs.");
xt.append("tspan").text(" Na");
xt.append("tspan").attr("dy", -12).attr("font-size", 18).text("+");
xt.append("tspan").attr("dy", 12).text("/Na / V");
</script>
</body></html>
